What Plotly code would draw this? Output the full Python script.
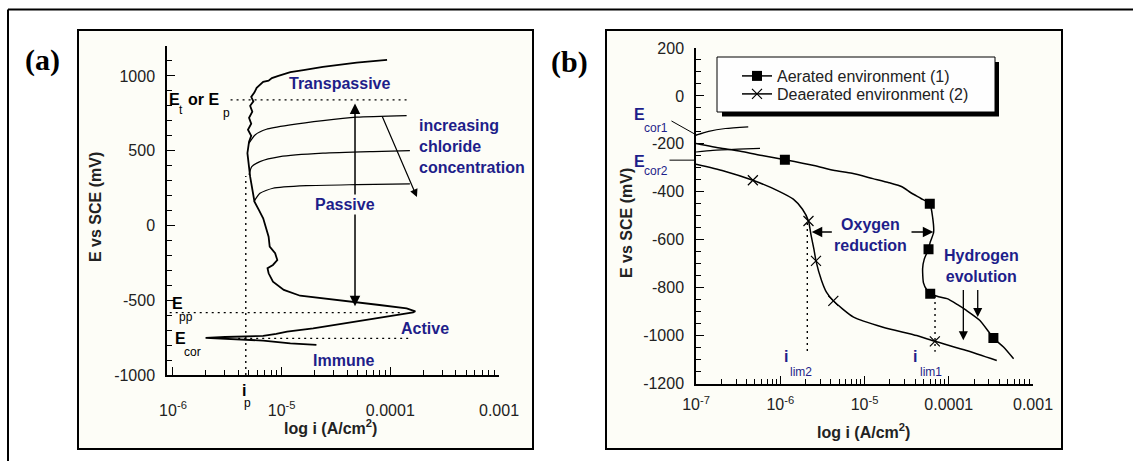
import numpy as np
import plotly.graph_objects as go

W, H = 1133, 461
SANS = "Liberation Sans, Arial, Helvetica, sans-serif"
SERIF = "Liberation Serif, Times New Roman, serif"
NAVY = "#1e1e8a"
INK = "#222222"
PANEL = "#fdfdf7"

# ---------------- (a) polarisation of a passivating metal ----------------
# currents as log10(i / A cm^-2), potentials in mV vs SCE
a_main_logi = [-4.68, -4.92, -5.17, -5.38, -5.54, -5.70,
               -5.52, -5.30, -5.17, -5.05, -4.95, -4.71, -4.46, -4.22, -3.97, -3.79, -3.77,
               -3.85, -4.10, -4.34, -4.59, -4.83, -4.98, -5.08, -5.12, -5.13, -5.08, -5.04,
               -5.06, -5.11, -5.12, -5.14, -5.17, -5.21, -5.25,
               -5.29, -5.315, -5.30, -5.28, -5.31, -5.28, -5.30, -5.27, -5.29, -5.26, -5.28,
               -5.25, -5.23, -5.19, -5.17, -5.12, -5.09, -5.03, -4.92, -4.80, -4.62, -4.31, -4.03]
a_main_e = [-799, -788, -770, -761, -757, -752,
            -746, -742, -739, -725, -710, -688, -659, -632, -603, -581, -574,
            -554, -532, -510, -492, -470, -431, -376, -320, -286, -264, -231,
            -186, -142, -75, -19, 48, 104, 159,
            326, 483, 560, 600, 640, 680, 720, 760, 800, 830, 860,
            890, 920, 945, 960, 968, 985, 1000, 1025, 1038, 1060, 1089, 1107]

# pitting branches for increasing chloride concentration
a_cl_high_logi = [-5.30, -5.245, -5.14, -4.92, -4.62, -4.31, -3.85]
a_cl_high_e = [550, 605, 643, 672, 701, 724, 735]
a_cl_mid_logi = [-5.30, -5.275, -5.20, -5.015, -4.62, -4.16, -3.82]
a_cl_mid_e = [338, 393, 427, 460, 483, 494, 500]
a_cl_low_logi = [-5.255, -5.20, -5.08, -4.77, -4.31, -3.82]
a_cl_low_e = [159, 215, 249, 266, 273, 278]

E_T = 840        # transpassive / pitting potential
E_PP = -583      # primary passivation potential
E_COR = -755     # corrosion potential
LOG_IP = -5.33   # passive current density

a_xticks = [1e-6, 1e-5, 1e-4, 1e-3]
a_xticktext = ["10<sup>-6</sup>", "10<sup>-5</sup>", "0.0001", "0.001"]
a_yticks = [-1000, -500, 0, 500, 1000]

# ---------------- (b) cathodic curves, aerated vs deaerated ----------------
b_aer_logi = [-7.0, -6.7, -6.44, -6.2, -5.945, -5.6, -5.37, -5.148, -4.9, -4.71, -4.55,
              -4.45, -4.33, -4.225, -4.19, -4.18, -4.22, -4.24, -4.29, -4.31, -4.30, -4.26,
              -4.22, -4.12, -4.02, -3.90, -3.79, -3.63, -3.47, -3.35, -3.23]
b_aer_e = [-198, -218, -233, -250, -266, -290, -310, -323, -345, -362, -380,
           -404, -428, -450, -510, -570, -610, -640, -680, -720, -780, -810,
           -825, -838, -846, -870, -895, -937, -1010, -1048, -1097]
b_aer_mark_logi = [-5.945, -4.225, -4.24, -4.22, -3.47]
b_aer_mark_e = [-266, -450, -640, -825, -1010]

b_dea_logi = [-7.0, -6.67, -6.325, -6.02, -5.845, -5.736, -5.665, -5.635, -5.60, -5.576,
              -5.51, -5.45, -5.37, -5.13, -4.78, -4.38, -4.165, -3.79, -3.43]
b_dea_e = [-285, -313, -352, -397, -431, -473, -522, -580, -640, -688,
           -770, -820, -855, -923, -965, -1000, -1024, -1062, -1104]
b_dea_mark_logi = [-6.325, -5.665, -5.576, -5.37, -4.165]
b_dea_mark_e = [-352, -522, -688, -855, -1024]

b_ecor1_logi = [-7.0, -6.85, -6.65, -6.38]
b_ecor1_e = [-164, -148, -136, -129]
b_ecor2_logi = [-7.0, -6.8, -6.5, -6.24]
b_ecor2_e = [-234, -227, -222, -219]

LOG_ILIM2 = -5.679
LOG_ILIM1 = -4.163

b_xticks = [1e-7, 1e-6, 1e-5, 1e-4, 1e-3]
b_xticktext = ["10<sup>-7</sup>", "10<sup>-6</sup>", "10<sup>-5</sup>", "0.0001", "0.001"]
b_yticks = list(range(-1200, 201, 200))


def px(X):
    return X / W


def py(Y):
    return 1 - Y / H


def lin(v):
    return [10 ** t for t in v]


def log_minor(decades):
    return [m * 10.0 ** d for d in decades for m in range(2, 10)]


def axis_style(**kw):
    base = dict(showline=True, linecolor="black", linewidth=1.5, ticks="inside",
                ticklen=8, tickwidth=1.2, tickcolor="black", showgrid=False,
                zeroline=False, mirror=False, fixedrange=True, automargin=False,
                tickfont=dict(family=SANS, size=16, color=INK))
    base.update(kw)
    return base


def minor(vals):
    return dict(tickvals=vals, ticks="inside", ticklen=5, tickwidth=1,
                tickcolor="black", showgrid=False)


fig = go.Figure()
BLACK = "black"
DOT = "2px,4px"


def line(xl, y, ax, width=1.5, dash=None, shape="linear"):
    fig.add_trace(go.Scatter(
        x=lin(xl), y=y, mode="lines", xaxis=ax[0], yaxis=ax[1],
        line=dict(color=BLACK, width=width, dash=dash, shape=shape, smoothing=0.6),
        showlegend=False, hoverinfo="skip"))


A = ("x", "y")
B = ("x2", "y2")

# panel (a)
line([-5.47, -3.82], [E_T, E_T], A, 1.4, DOT)
line([-6.03, -3.88], [E_PP, E_PP], A, 1.4, DOT)
line([-5.40, -3.82], [E_COR, E_COR], A, 1.4, DOT)
line([LOG_IP, LOG_IP], [-1000, 330], A, 1.4, DOT)
line(a_cl_high_logi, a_cl_high_e, A, 1.2, shape="spline")
line(a_cl_mid_logi, a_cl_mid_e, A, 1.2, shape="spline")
line(a_cl_low_logi, a_cl_low_e, A, 1.2, shape="spline")
line(a_main_logi, a_main_e, A, 1.8)

# panel (b)
line([LOG_ILIM2, LOG_ILIM2], [-530, -1065], B, 1.4, DOT)
line([LOG_ILIM1, LOG_ILIM1], [-835, -1068], B, 1.4, DOT)
line(b_ecor1_logi, b_ecor1_e, B, 1.2, shape="spline")
line(b_ecor2_logi, b_ecor2_e, B, 1.2, shape="spline")
line(b_aer_logi, b_aer_e, B, 1.5, shape="spline")
line(b_dea_logi, b_dea_e, B, 1.5, shape="spline")

SQUARE = dict(symbol="square", size=10, color=BLACK)
CROSS = dict(symbol="x-thin", size=10, color=BLACK, line=dict(width=1.2, color=BLACK))

fig.add_trace(go.Scatter(x=lin(b_aer_mark_logi), y=b_aer_mark_e, mode="markers",
                         xaxis="x2", yaxis="y2", marker=SQUARE,
                         showlegend=False, hoverinfo="skip"))
fig.add_trace(go.Scatter(x=lin(b_dea_mark_logi), y=b_dea_mark_e, mode="markers",
                         xaxis="x2", yaxis="y2", marker=CROSS,
                         showlegend=False, hoverinfo="skip"))
# legend entries, one per row
fig.add_trace(go.Scatter(x=[None], y=[None], mode="lines+markers", xaxis="x2", yaxis="y2",
                         name="Aerated environment (1)", marker=SQUARE, legend="legend",
                         line=dict(color=BLACK, width=1.5)))
fig.add_trace(go.Scatter(x=[None], y=[None], mode="lines+markers", xaxis="x2", yaxis="y2",
                         name="Deaerated environment (2)", marker=CROSS, legend="legend2",
                         line=dict(color=BLACK, width=1.5)))

shapes = [
    # outer frame (top and left edges)
    dict(type="line", xref="paper", yref="paper", x0=px(8), x1=1.0,
         y0=py(9.5), y1=py(9.5), line=dict(color=BLACK, width=2), layer="below"),
    dict(type="line", xref="paper", yref="paper", x0=px(8), x1=px(8),
         y0=py(9.5), y1=0.0, line=dict(color=BLACK, width=2), layer="below"),
    # panel boxes
    dict(type="rect", xref="paper", yref="paper", x0=px(78), x1=px(533),
         y0=py(449), y1=py(30), line=dict(color=BLACK, width=2), fillcolor=PANEL, layer="below"),
    dict(type="rect", xref="paper", yref="paper", x0=px(606), x1=px(1062),
         y0=py(449), y1=py(30), line=dict(color=BLACK, width=2), fillcolor=PANEL, layer="below"),
    # legend box with drop shadow
    dict(type="rect", xref="paper", yref="paper", x0=px(722), x1=px(999),
         y0=py(116.5), y1=py(62), line=dict(width=0), fillcolor=BLACK, layer="below"),
    dict(type="rect", xref="paper", yref="paper", x0=px(717), x1=px(995),
         y0=py(112), y1=py(57), line=dict(color=BLACK, width=1), fillcolor="#fefefe", layer="below"),
]


def note(text, x, y, ref, size=16, color=NAVY, bold=True, xanchor="center",
         yanchor="middle", family=SANS, **kw):
    t = f"<b>{text}</b>" if bold else text
    return dict(text=t, x=x, y=y, xref=ref[0], yref=ref[1], showarrow=False,
                font=dict(family=family, size=size, color=color),
                xanchor=xanchor, yanchor=yanchor, **kw)


def arrow(x, y, ax, ay, ref, head=2, side="end", width=1.5, size=1.4):
    return dict(x=x, y=y, ax=ax, ay=ay, xref=ref[0], yref=ref[1], axref=ref[0],
                ayref=ref[1], text="", showarrow=True, arrowhead=head, arrowside=side,
                arrowwidth=width, arrowsize=size, arrowcolor=BLACK,
                startarrowhead=head, startarrowsize=size, standoff=0, startstandoff=0)


P = ("paper", "paper")


def pnote(text, X, Y, **kw):
    # label placed on the page (outside the data ranges)
    return note(text, px(X), py(Y), P, **kw)


annotations = [
    # arrows, panel (a)
    arrow(-4.325, 815, -4.325, -550, A, side="end+start"),
    arrow(-3.755, 190, -4.08, 739, A, width=1.2, size=1.3),
    # arrows and leaders, panel (b)
    arrow(-5.626, -568, -5.37, -568, B),
    arrow(-4.183, -568, -4.46, -568, B),
    arrow(-3.827, -1020, -3.827, -804, B, width=1.3),
    arrow(-3.656, -923, -3.656, -804, B, width=1.3),
    arrow(-6.99, -164, -7.309, -101, B, head=0, width=1),
    arrow(-7.0, -268, -7.332, -268, B, head=0, width=1),

    # region labels, panel (a)
    note("Transpassive", -4.46, 946, A),
    note("increasing<br>chloride<br>concentration", -3.757, 527, A, xanchor="left", align="left"),
    note("Passive", -4.417, 137, A, bgcolor=PANEL),
    note("Active", -3.68, -686, A),
    note("Immune", -4.43, -904, A),
    # potential / current markers, panel (a)
    note("E", -6.054, 839, A, color=BLACK, xanchor="left"),
    note("t", -5.967, 773, A, size=12, color=BLACK, bold=False, xanchor="left"),
    note("or E", -5.88, 839, A, color=BLACK, xanchor="left"),
    note("p", -5.558, 752, A, size=12, color=BLACK, bold=False, xanchor="left"),
    note("E", -6.027, -525, A, color=BLACK, xanchor="left"),
    note("pp", -5.963, -612, A, size=12, color=BLACK, bold=False, xanchor="left"),
    note("E", -5.999, -759, A, color=BLACK, xanchor="left"),
    note("cor", -5.919, -844, A, size=12, color=BLACK, bold=False, xanchor="left"),
    pnote("i", 243.5, 390, color=BLACK),
    pnote("p", 247.5, 403, size=12, color=BLACK, bold=False),

    # labels, panel (b)
    note("Oxygen<br>reduction", -4.93, -580, B),
    note("Hydrogen<br>evolution", -3.609, -710, B),
    pnote("E", 632, 114, xanchor="left"),
    pnote("cor1", 642, 128, size=12, bold=False, xanchor="left"),
    pnote("E", 632, 161, xanchor="left"),
    pnote("cor2", 642, 171, size=12, bold=False, xanchor="left"),
    note("i", -5.932, -1087, B),
    note("lim2", -5.908, -1153, B, size=12, bold=False, xanchor="left"),
    note("i", -4.40, -1087, B),
    note("lim1", -4.365, -1153, B, size=12, bold=False, xanchor="left"),

    # axis titles
    pnote("E vs SCE (mV)", 95, 207, color=INK, textangle=-90),
    pnote("E vs SCE (mV)", 626, 223, color=INK, textangle=-90),
    pnote("log i (A/cm<sup>2</sup>)", 330, 427, color=INK),
    pnote("log i (A/cm<sup>2</sup>)", 863, 431, color=INK),
    # panel letters
    pnote("(a)", 42.5, 60, size=30, color=BLACK, family=SERIF),
    pnote("(b)", 569, 62, size=30, color=BLACK, family=SERIF),
]

LEGEND = dict(xanchor="left", yanchor="top", bgcolor="rgba(0,0,0,0)", borderwidth=0,
              font=dict(family=SANS, size=16, color=INK))

fig.update_layout(
    width=W, height=H, margin=dict(l=0, r=0, t=0, b=0, autoexpand=False),
    paper_bgcolor="white", plot_bgcolor="rgba(0,0,0,0)",
    hovermode=False,
    xaxis=axis_style(type="log", range=[-6.055, -3], domain=[px(167), px(499)], anchor="y",
                     tickvals=a_xticks, ticktext=a_xticktext, ticklabelstandoff=20,
                     minor=minor(log_minor([-6, -5, -4]))),
    yaxis=axis_style(range=[-1000, 1200], domain=[py(375), py(46)], anchor="x",
                     tickvals=a_yticks, ticktext=[str(v) for v in a_yticks],
                     ticklabelstandoff=7, minor=minor(list(range(-1000, 1201, 100)))),
    xaxis2=axis_style(type="log", range=[-7, -3], domain=[px(696), px(1033)], anchor="y2",
                      tickvals=b_xticks, ticktext=b_xticktext, ticklabelstandoff=6,
                      minor=minor(log_minor([-7, -6, -5, -4]))),
    yaxis2=axis_style(range=[-1200, 200], domain=[py(383.5), py(48)], anchor="x2",
                      tickvals=b_yticks, ticktext=[str(v) for v in b_yticks],
                      ticklabelstandoff=7, minor=minor(list(range(-1200, 201, 50)))),
    legend=dict(x=px(737), y=py(59), **LEGEND),
    legend2=dict(x=px(737), y=py(77), **LEGEND),
    shapes=shapes,
    annotations=annotations,
)

fig.write_html(
    "out.html",
    post_script="document.body.style.margin = '0'; document.body.style.overflow = 'hidden';",
)
